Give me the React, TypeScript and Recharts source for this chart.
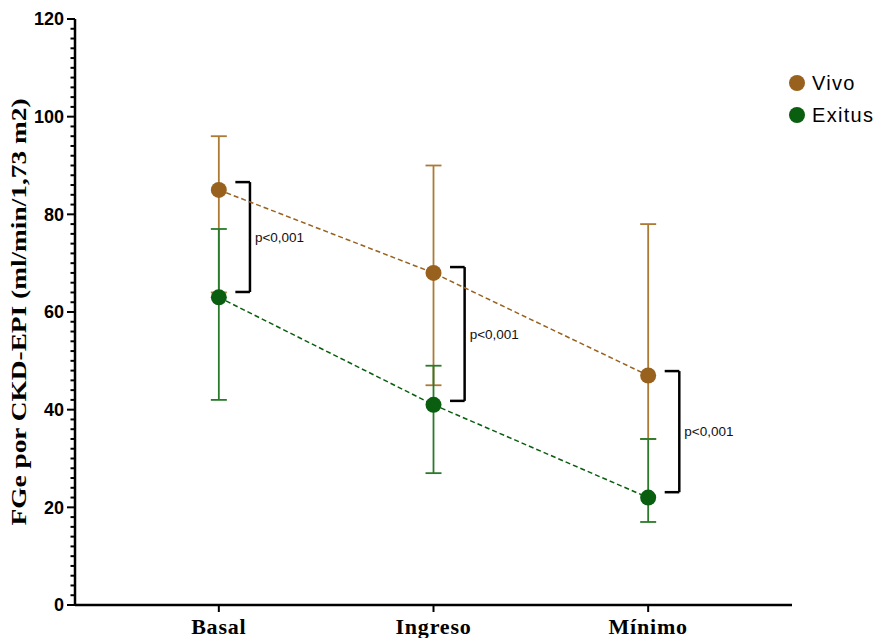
import React from 'react'
import { LineChart, Line, XAxis, YAxis, ErrorBar, ReferenceLine, Legend } from 'recharts'

const momentos = ['Basal', 'Ingreso', 'Mínimo']
const vivoMedia = [85, 68, 47]
const vivoSup = [96, 90, 78]
const vivoInf = [64, 45, 34]
const exitusMedia = [63, 41, 22]
const exitusSup = [77, 49, 34]
const exitusInf = [42, 27, 17]

// corchetes de significación
const corcheteSup = [86.6, 69.2, 47.9]
const corcheteInf = [64.1, 41.8, 23.1]
const pValores = ['p<0,001', 'p<0,001', 'p<0,001']

const series = ['Vivo', 'Exitus']
const yTicks = Array.from({ length: 61 }, (_, i) => i * 2)

const MARRON = '#98621e'
const MARRON_BARRA = '#ad7a36'
const VERDE = '#0a5e10'
const VERDE_BARRA = '#2a7a2a'

const datos = momentos.map((m, i) => ({
  x: i,
  nombre: m,
  vivo: vivoMedia[i],
  vivoErr: [vivoMedia[i] - vivoInf[i], vivoSup[i] - vivoMedia[i]],
  exitus: exitusMedia[i],
  exitusErr: [exitusMedia[i] - exitusInf[i], exitusSup[i] - exitusMedia[i]],
}))

const YTick = (props: any) => {
  const { x, y, payload } = props
  const mayor = payload.value % 20 === 0
  return (
    <g>
      <line x1={x - (mayor ? 8 : 4.5)} x2={x} y1={y} y2={y} stroke="#000" strokeWidth={2} />
      {mayor && (
        <text
          x={x - 11}
          y={y}
          dy="0.36em"
          textAnchor="end"
          fontFamily="Liberation Sans, Arial, sans-serif"
          fontWeight="bold"
          fontSize={18}
          fill="#000"
        >
          {payload.value}
        </text>
      )}
    </g>
  )
}

const XTick = (props: any) => {
  const { x, y, payload } = props
  return (
    <g>
      <line x1={x} x2={x} y1={y} y2={y + 7} stroke="#000" strokeWidth={2} />
      <text
        x={x}
        y={y + 29}
        textAnchor="middle"
        fontFamily="Liberation Serif, Times New Roman, serif"
        fontWeight="bold"
        fontSize={22}
        letterSpacing={0.8}
        fill="#000"
      >
        {momentos[payload.value]}
      </text>
    </g>
  )
}

const YLabel = (props: any) => {
  const { viewBox } = props
  const cy = viewBox.y + viewBox.height / 2
  return (
    <text
      x={19}
      y={cy}
      transform={`rotate(-90, 19, ${cy})`}
      textAnchor="middle"
      dominantBaseline="central"
      fontFamily="Liberation Serif, Times New Roman, serif"
      fontWeight="bold"
      fontSize={21}
      textLength={427}
      lengthAdjust="spacingAndGlyphs"
      fill="#000"
    >
      FGe por CKD-EPI (ml/min/1,73 m2)
    </text>
  )
}

const Leyenda = (props: any) => {
  const payload = [...(props.payload || [])].sort(
    (a: any, b: any) => series.indexOf(a.value) - series.indexOf(b.value)
  )
  return (
    <div style={{ fontFamily: 'Liberation Sans, Arial, sans-serif', fontSize: 20, letterSpacing: 1.3 }}>
      {payload.map((p: any) => (
        <div key={p.value} style={{ display: 'flex', alignItems: 'center', height: 32 }}>
          <span
            style={{
              width: 16,
              height: 16,
              borderRadius: '50%',
              background: p.color,
              display: 'inline-block',
              marginRight: 7,
            }}
          />
          <span style={{ color: '#000' }}>{p.value}</span>
        </div>
      ))}
    </div>
  )
}

export default function App() {
  return (
    <div style={{ position: 'absolute', left: 0, top: 0, background: '#fff' }}>
      <LineChart width={877} height={638} data={datos} margin={{ top: 19, right: 85, left: 0, bottom: 0 }}>
        <XAxis
          dataKey="x"
          type="number"
          domain={[-0.67, 2.67]}
          ticks={[0, 1, 2]}
          allowDataOverflow
          height={33}
          tickSize={0}
          tickMargin={0}
          tick={<XTick />}
          axisLine={{ stroke: '#000', strokeWidth: 2.5 }}
          tickLine={false}
        />
        <YAxis
          type="number"
          domain={[0, 120]}
          ticks={yTicks}
          interval={0}
          width={75}
          tickSize={0}
          tickMargin={0}
          tick={<YTick />}
          tickLine={false}
          axisLine={{ stroke: '#000', strokeWidth: 2.5 }}
          label={<YLabel />}
        />
        <Legend
          verticalAlign="middle"
          align="center"
          layout="vertical"
          content={<Leyenda />}
          wrapperStyle={{ position: 'absolute', left: 789, top: 67, width: 88 }}
        />
        {momentos.map((m, i) => (
          <ReferenceLine
            key={'t' + m}
            segment={[
              { x: i + 0.077, y: corcheteSup[i] },
              { x: i + 0.145, y: corcheteSup[i] },
            ]}
            stroke="#000"
            strokeWidth={2.5}
          />
        ))}
        {momentos.map((m, i) => (
          <ReferenceLine
            key={'b' + m}
            segment={[
              { x: i + 0.077, y: corcheteInf[i] },
              { x: i + 0.145, y: corcheteInf[i] },
            ]}
            stroke="#000"
            strokeWidth={2.5}
          />
        ))}
        {momentos.map((m, i) => (
          <ReferenceLine
            key={'v' + m}
            segment={[
              { x: i + 0.145, y: corcheteSup[i] },
              { x: i + 0.145, y: corcheteInf[i] },
            ]}
            stroke="#000"
            strokeWidth={2.5}
            label={{
              value: pValores[i],
              position: 'right',
              offset: 5,
              fill: '#111',
              fontSize: 13.5,
              fontFamily: 'Liberation Sans, Arial, sans-serif',
            }}
          />
        ))}
        <Line
          name="Vivo"
          dataKey="vivo"
          stroke={MARRON}
          strokeWidth={1.5}
          strokeDasharray="5 3"
          dot={{ r: 8, fill: MARRON, stroke: MARRON, strokeWidth: 0 }}
          activeDot={false}
          isAnimationActive={false}
        >
          <ErrorBar dataKey="vivoErr" width={8} stroke={MARRON_BARRA} strokeWidth={1.8} direction="y" />
        </Line>
        <Line
          name="Exitus"
          dataKey="exitus"
          stroke={VERDE}
          strokeWidth={1.5}
          strokeDasharray="5 3"
          dot={{ r: 8, fill: VERDE, stroke: VERDE, strokeWidth: 0 }}
          activeDot={false}
          isAnimationActive={false}
        >
          <ErrorBar dataKey="exitusErr" width={8} stroke={VERDE_BARRA} strokeWidth={1.8} direction="y" />
        </Line>
      </LineChart>
    </div>
  )
}
